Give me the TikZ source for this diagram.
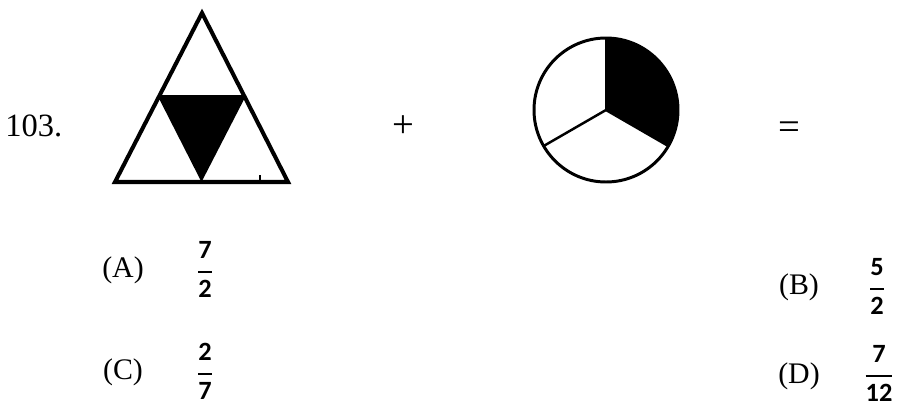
\documentclass[tikz,border=0pt]{standalone}
\usepackage{fontspec}
\setmainfont{Liberation Serif}
\newfontfamily\fracfont{Carlito}
\usepackage{tikz}
\usetikzlibrary{calc}
\newcommand{\optfrac}[2]{{\fracfont\bfseries\setlength{\arrayrulewidth}{1.1pt}%
  \renewcommand{\arraystretch}{1.2}%
  \begin{tabular}{@{}c@{}}#1\\[1pt]\hline\rule{0pt}{14pt}#2\end{tabular}}}

\begin{document}
\begin{tikzpicture}[x=0.02cm, y=-0.02cm,
  optlabel/.style={inner sep=0pt, font=\fontsize{17}{20}\selectfont},
  fracnode/.style={inner sep=0pt, font=\fontsize{15}{17}\selectfont},
  symb/.style={inner sep=0pt, font=\fontsize{22}{24}\selectfont},
  shapeline/.style={line width=2.3pt, line join=miter},
]
\useasboundingbox (0,0) rectangle (904,409);
% --- question number and operators ---
\node[optlabel, anchor=west, font=\fontsize{18.5}{21}\selectfont] (qnum) at (5,126) {103.};
\node[symb] (plus) at (403,127) {+};
\node[symb] (eq) at (789,131) {=};
% --- triangle ---
\coordinate (tA) at (202,13);
\coordinate (tL) at (115,182);
\coordinate (tR) at (288,182);
\coordinate (mL) at ($(tA)!0.5!(tL)$);
\coordinate (mR) at ($(tA)!0.5!(tR)$);
\coordinate (mB) at ($(tL)!0.5!(tR)$);
\fill (mL) -- (mR) -- (mB) -- cycle;
\draw[shapeline] (tA) -- (tL) -- (tR) -- cycle;
\draw[shapeline] (mL) -- (mR);
\draw[line width=1.3pt] (260,175) -- (260,182);
% --- circle ---
\begin{scope}[shift={(606,110)}, y=0.02cm]
  \coordinate (cc) at (0,0);
  \fill (cc) -- (90:72) arc[start angle=90, end angle=-30, radius=72] -- cycle;
  \draw[line width=1.7pt] (cc) circle[radius=72];
  \foreach \ang in {90,210,330}
    \draw[line width=1.4pt] (cc) -- (\ang:72);
\end{scope}
% --- options ---
\node[optlabel] (optA) at (123,270) {(A)};
\node[fracnode] (fracA) at (205,271) {\optfrac{7}{2}};
\node[optlabel] (optB) at (799,287) {(B)};
\node[fracnode] (fracB) at (877,288) {\optfrac{5}{2}};
\node[optlabel] (optC) at (123,372) {(C)};
\node[fracnode] (fracC) at (205,373) {\optfrac{2}{7}};
\node[optlabel] (optD) at (799,376) {(D)};
\node[fracnode] (fracD) at (879,375) {\optfrac{7}{12}};
\end{tikzpicture}
\end{document}
